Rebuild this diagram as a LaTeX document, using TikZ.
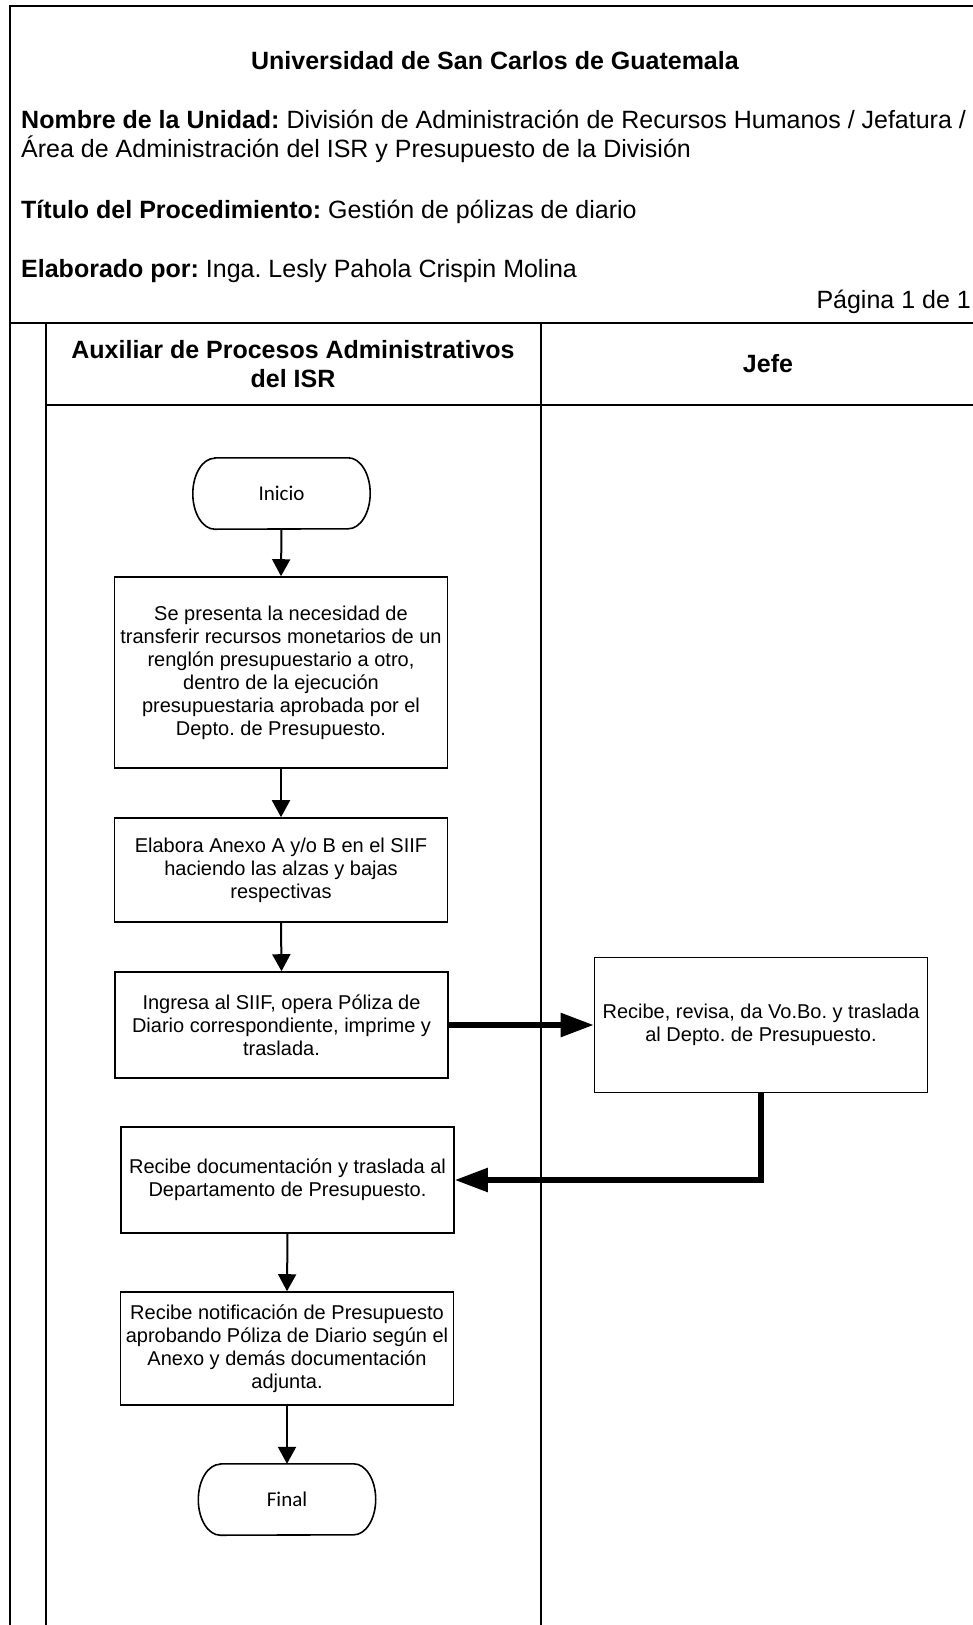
\documentclass[tikz,border=0pt]{standalone}
\usepackage{fontspec}
\setmainfont{Liberation Sans}
\newfontfamily\calfont{Carlito}
\usetikzlibrary{arrows.meta}
\frenchspacing
\newcommand\hdfont{\fontsize{25}{29}\selectfont}
\newcommand\bxfont{\fontsize{20}{23}\selectfont}
\newcommand\tmfont{\calfont\fontsize{21}{24}\selectfont}
\newcommand\termoutline[1]{%
  \draw[line width=1.6pt] ([xshift=22pt]#1.north west) -- ([xshift=-22pt]#1.north east)
    arc[start angle=90,end angle=-90,x radius=22pt,y radius=35.5pt]
    -- ([xshift=22pt]#1.south west)
    arc[start angle=270,end angle=90,x radius=22pt,y radius=35.5pt] -- cycle;}
\begin{document}
\begin{tikzpicture}[x=1pt,y=-1pt,
  frame/.style={line width=2.2pt},
  box/.style={draw,line width=1.6pt,minimum width=333pt,align=center,inner sep=0pt,font=\bxfont},
  term/.style={minimum width=177pt,minimum height=71pt,inner sep=0pt,font=\tmfont},
  hd/.style={font=\hdfont,inner sep=0pt},
  thinarrow/.style={line width=2pt,-{Triangle[length=17pt,width=18pt]}},
  thickarrow/.style={line width=5.5pt,-{Triangle[length=33pt,width=23pt]}},
]
\useasboundingbox (0,0) rectangle (973,1625);
% frame and lanes
\draw[frame] (975,6) -- (10,6) -- (10,1626);
\draw[frame] (10,323) -- (975,323);
\draw[frame] (46,323) -- (46,1626);
\draw[frame] (46,405) -- (975,405);
\draw[frame] (541,323) -- (541,1626);
% header texts
\node[hd,anchor=base] (title) at (495,69) {\textbf{Universidad de San Carlos de Guatemala}};
\node[hd,anchor=base west] (unit1) at (21,128) {\textbf{Nombre de la Unidad:} División de Administración de Recursos Humanos / Jefatura /};
\node[hd,anchor=base west] (unit2) at (21,157) {Área de Administración del ISR y Presupuesto de la División};
\node[hd,anchor=base west] (proc) at (21,218) {\textbf{Título del Procedimiento:} Gestión de pólizas de diario};
\node[hd,anchor=base west] (auth) at (21,277) {\textbf{Elaborado por:} Inga. Lesly Pahola Crispin Molina};
\node[hd,anchor=base east] (page) at (971,308) {Página 1 de 1};
\node[hd,anchor=base] (lane1a) at (293,358) {\textbf{Auxiliar de Procesos Administrativos}};
\node[hd,anchor=base] (lane1b) at (293,387) {\textbf{del ISR}};
\node[hd,anchor=base] (lane2) at (768,372) {\textbf{Jefe}};
% flow nodes
\node[term] (ini) at (281.5,493.5) {Inicio};
\termoutline{ini}
\node[box,minimum height=191pt] (b1) at (281,672.5) {Se presenta la necesidad de\\transferir recursos monetarios de un\\renglón presupuestario a otro,\\dentro de la ejecución\\presupuestaria aprobada por el\\Depto. de Presupuesto.};
\node[box,minimum height=104pt] (b2) at (281,870) {Elabora Anexo A y/o B en el SIIF\\haciendo las alzas y bajas\\respectivas};
\node[box,minimum height=106pt] (b3) at (281.5,1025) {Ingresa al SIIF, opera Póliza de\\Diario correspondiente, imprime y\\traslada.};
\node[box,minimum height=135pt] (b4) at (761,1025) {Recibe, revisa, da Vo.Bo. y traslada\\al Depto. de Presupuesto.};
\node[box,minimum height=106pt] (b5) at (287.5,1180) {Recibe documentación y traslada al\\Departamento de Presupuesto.};
\node[box,minimum height=113pt] (b6) at (287,1348.5) {Recibe notificación de Presupuesto\\aprobando Póliza de Diario según el\\Anexo y demás documentación\\adjunta.};
\node[term] (fin) at (287,1499.5) {Final};
\termoutline{fin}
% connectors
\draw[thinarrow] (ini.south) -- (b1.north);
\draw[thinarrow] (b1.south) -- (b2.north);
\draw[thinarrow] (b2.south) -- (b3.north);
\draw[thickarrow] (b3.east) -- (b4.west);
\draw[thickarrow] (b4.south) |- (b5.east);
\draw[thinarrow] (b5.south) -- (b6.north);
\draw[thinarrow] (b6.south) -- (fin.north);
\end{tikzpicture}
\end{document}
